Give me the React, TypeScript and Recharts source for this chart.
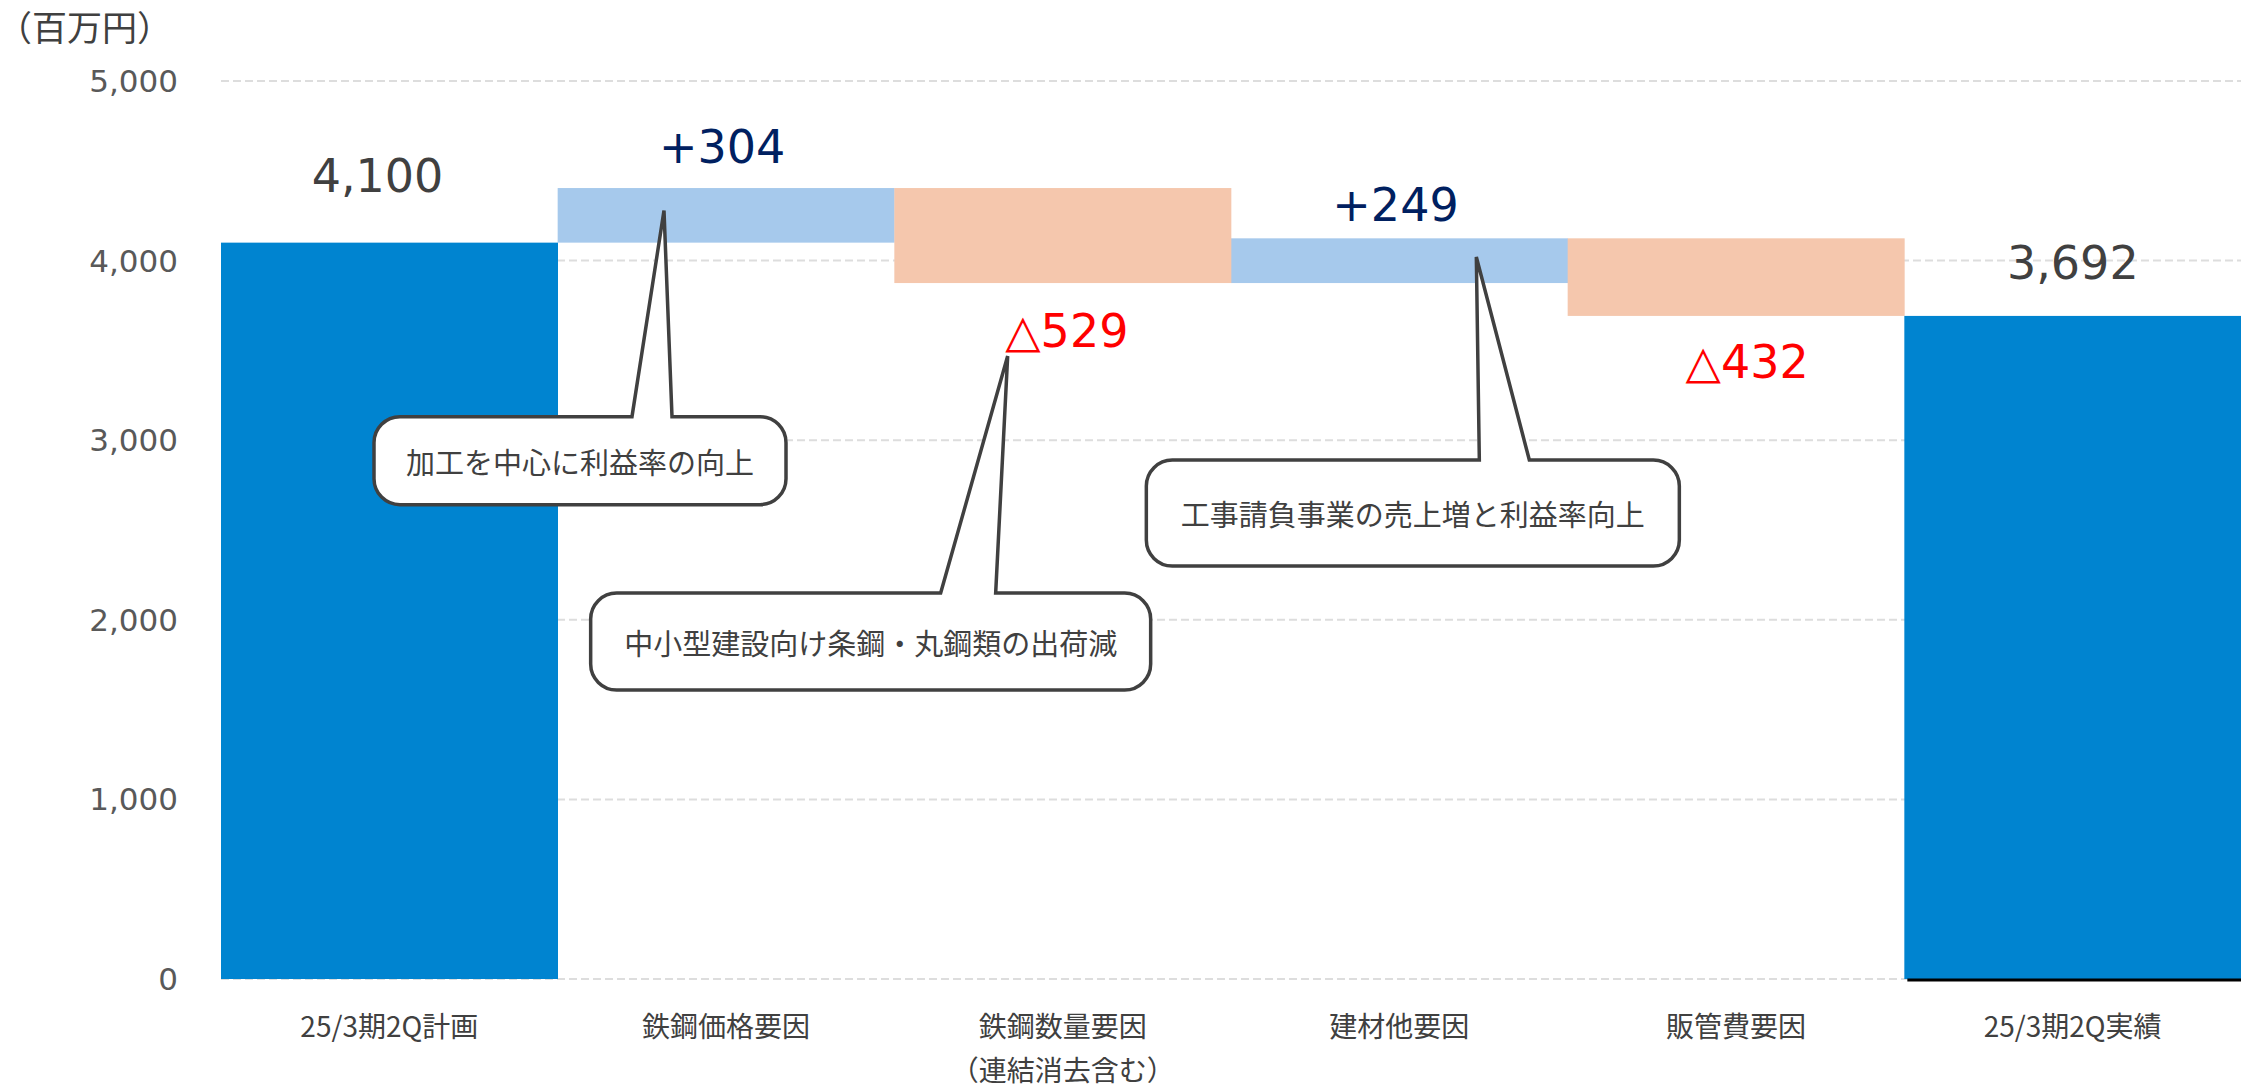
import React from "react"
import { BarChart, Bar, XAxis, YAxis, CartesianGrid, ReferenceDot } from "recharts"

const categories = ["25/3期2Q計画", "鉄鋼価格要因", "鉄鋼数量要因", "建材他要因", "販管費要因", "25/3期2Q実績"]
const subLabels = ["", "", "（連結消去含む）", "", "", ""]
const planValue = 4100
const factorDeltas = [304, -529, 249, -432]
const actualValue = 3692
const yTicks = [0, 1000, 2000, 3000, 4000, 5000]

const calloutTexts = [
  "加工を中心に利益率の向上",
  "中小型建設向け条鋼・丸鋼類の出荷減",
  "工事請負事業の売上増と利益率向上",
]

// build waterfall rows (invisible base + visible delta)
const rows: Array<Record<string, any>> = []
let running = planValue
rows.push({ name: categories[0], base: 0, up: 0, down: 0, total: planValue })
factorDeltas.forEach((d, i) => {
  const next = running + d
  rows.push({
    name: categories[i + 1],
    base: Math.min(running, next),
    up: d > 0 ? d : 0,
    down: d < 0 ? -d : 0,
    total: 0,
  })
  running = next
})
rows.push({ name: categories[5], base: 0, up: 0, down: 0, total: actualValue })

const COLORS = {
  total: "#0084D0",
  up: "#A6C9EC",
  down: "#F5C7AD",
  totalText: "#404040",
  upText: "#002060",
  downText: "#FF0000",
}

// label centre offset from bar edge, by category
const labelOffsets = [-67, -41, 48, -33, 46, -53]
const labelShiftX = [-12, -4, 4, -4, 11, 0]

const NUM_FONT = "'DejaVu Sans', Verdana, sans-serif"
const JP_FONT = "'Noto Sans CJK JP', sans-serif"

const fmt = (v: number) => v.toLocaleString("en-US")

// bar shape that also draws the value label
function makeShape(kind: "up" | "down" | "total") {
  const fill = COLORS[kind]
  const textFill = kind === "up" ? COLORS.upText : kind === "down" ? COLORS.downText : COLORS.totalText
  return (props: any) => {
    const { x, y, width, height, index } = props
    const row = props.payload ?? rows[index]
    const v = row ? row[kind] : 0
    if (!v || !height) return <g />
    const idx = categories.indexOf(row.name)
    const cx = x + width / 2 + labelShiftX[idx]
    const cy = kind === "down" ? y + height + labelOffsets[idx] : y + labelOffsets[idx]
    const text = kind === "up" ? `+${fmt(v)}` : kind === "down" ? `△${fmt(v)}` : fmt(v)
    return (
      <g>
        <rect x={x} y={y} width={width} height={height} fill={fill} />
        {kind === "total" && idx === categories.length - 1 && (
          <line x1={x + 3} x2={x + width} y1={y + height + 1} y2={y + height + 1} stroke="#000" strokeWidth={3} />
        )}
        <text x={cx} y={cy} textAnchor="middle" dominantBaseline="central" fontSize={46} fill={textFill} fontFamily={NUM_FONT}>
          {text}
        </text>
      </g>
    )
  }
}

const renderTick = (props: any) => {
  const { x, y, payload } = props
  const sub = subLabels[categories.indexOf(payload.value)]
  return (
    <text x={x} y={y} textAnchor="middle" fontSize={28} fill="#404040" fontFamily={JP_FONT}>
      <tspan x={x} dy={56}>{payload.value}</tspan>
      {sub ? <tspan x={x} dy={44}>{sub}</tspan> : null}
    </text>
  )
}

// callout geometry relative to its anchor point
const calloutGeom = [
  { tip: [-62, -32], box: [-352, 174, 412, 88], tail: [-94, -54] },
  { tip: [-55, 73], box: [-472, 310, 560, 97], tail: [-122, -67] },
  { tip: [77, -26], box: [-253, 177, 533, 106], tail: [80, 130] },
]

function Callout({ cx, cy, idx }: { cx: number; cy: number; idx: number }) {
  if (cx == null || cy == null) return null
  const g = calloutGeom[idx]
  const bx = cx + g.box[0]
  const by = cy + g.box[1]
  const w = g.box[2]
  const h = g.box[3]
  const r = 26
  const tx = cx + g.tip[0]
  const ty = cy + g.tip[1]
  const d = [
    `M ${bx + r} ${by}`,
    `L ${cx + g.tail[0]} ${by}`,
    `L ${tx} ${ty}`,
    `L ${cx + g.tail[1]} ${by}`,
    `L ${bx + w - r} ${by}`,
    `A ${r} ${r} 0 0 1 ${bx + w} ${by + r}`,
    `L ${bx + w} ${by + h - r}`,
    `A ${r} ${r} 0 0 1 ${bx + w - r} ${by + h}`,
    `L ${bx + r} ${by + h}`,
    `A ${r} ${r} 0 0 1 ${bx} ${by + h - r}`,
    `L ${bx} ${by + r}`,
    `A ${r} ${r} 0 0 1 ${bx + r} ${by}`,
    "Z",
  ].join(" ")
  return (
    <g>
      <path d={d} fill="#fff" stroke="#404040" strokeWidth={3.5} strokeLinejoin="miter" />
      <text
        x={bx + w / 2}
        y={by + h / 2}
        textAnchor="middle"
        dominantBaseline="central"
        fontSize={29}
        fill="#404040"
        fontFamily={JP_FONT}
      >
        {calloutTexts[idx]}
      </text>
    </g>
  )
}

export default function App() {
  return (
    <div style={{ position: "absolute", left: 0, top: 0, width: 2241, height: 1090, background: "#fff" }}>
      <div
        style={{
          position: "absolute",
          left: -3,
          top: 5,
          fontSize: 35,
          lineHeight: "42px",
          color: "#404040",
          fontFamily: JP_FONT,
        }}
      >
        （百万円）
      </div>
      <BarChart
        width={2241}
        height={1090}
        data={rows}
        margin={{ top: 81, right: 0, left: 0, bottom: 11 }}
        barCategoryGap={0}
        barGap={0}
      >
        <CartesianGrid vertical={false} stroke="#DDDDDD" strokeWidth={2} strokeDasharray="8 4" />
        <XAxis dataKey="name" height={100} axisLine={false} tickLine={false} tickSize={0} tick={renderTick} interval={0} />
        <YAxis
          width={221}
          domain={[0, 5000]}
          ticks={yTicks}
          axisLine={false}
          tickLine={false}
          tickSize={0}
          tickMargin={43}
          tickFormatter={fmt}
          tick={{ fill: "#595959", fontSize: 31, fontFamily: NUM_FONT }}
        />
        <Bar dataKey="base" stackId="a" fill="transparent" isAnimationActive={false} />
        <Bar dataKey="up" stackId="a" shape={makeShape("up")} isAnimationActive={false} />
        <Bar dataKey="down" stackId="a" shape={makeShape("down")} isAnimationActive={false} />
        <Bar dataKey="total" stackId="a" shape={makeShape("total")} isAnimationActive={false} />
        <ReferenceDot
          x={categories[1]}
          y={rows[1].base}
          r={0}
          ifOverflow="visible"
          shape={(p: any) => <Callout cx={p.cx} cy={p.cy} idx={0} />}
        />
        <ReferenceDot
          x={categories[2]}
          y={rows[2].base}
          r={0}
          ifOverflow="visible"
          shape={(p: any) => <Callout cx={p.cx} cy={p.cy} idx={1} />}
        />
        <ReferenceDot
          x={categories[3]}
          y={rows[3].base}
          r={0}
          ifOverflow="visible"
          shape={(p: any) => <Callout cx={p.cx} cy={p.cy} idx={2} />}
        />
      </BarChart>
    </div>
  )
}
